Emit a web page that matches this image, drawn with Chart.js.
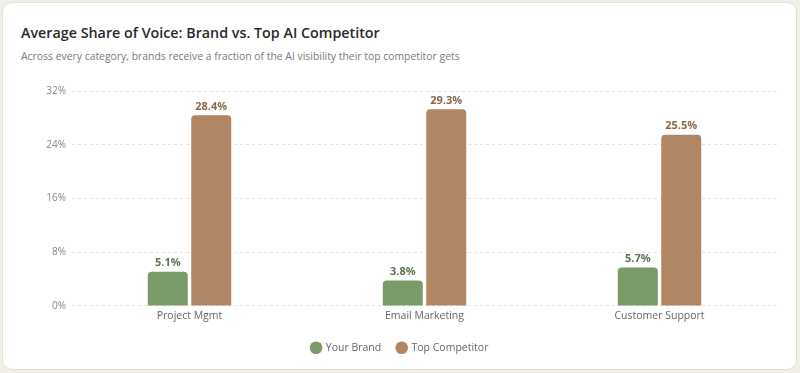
<!DOCTYPE html>
<html>
<head>
<meta charset="utf-8">
<script src="https://cdn.jsdelivr.net/npm/chart.js@4/dist/chart.umd.min.js"></script>
<style>
  html, body { margin: 0; padding: 0; background: #f1efe8; }
  body { width: 800px; height: 373px; overflow: hidden; font-family: "Open Sans", "Noto Sans", sans-serif; }
  .card {
    position: absolute; left: 2px; top: 2px; width: 793px; height: 366px;
    background: #fff; border: 1px solid #e3dfd3; border-radius: 10px;
  }
  h1 { position: absolute; left: 18px; top: 20px; margin: 0; font-size: 14.3px; font-weight: 600; color: #2a2a2a; }
  p { position: absolute; left: 18px; top: 46px; margin: 0; font-size: 10.4px; color: #7a7a7a; }
  .wrap { position: absolute; left: 20px; top: 76px; width: 754px; height: 284px; }
</style>
</head>
<body>
<div class="card">
  <h1>Average Share of Voice: Brand vs. Top AI Competitor</h1>
  <p>Across every category, brands receive a fraction of the AI visibility their top competitor gets</p>
  <div class="wrap"><canvas id="chart"></canvas></div>
</div>
<script>
const categories = ["Project Mgmt", "Email Marketing", "Customer Support"];
const brandShare = [5.1, 3.8, 5.7];
const competitorShare = [28.4, 29.3, 25.5];
const seriesNames = ["Your Brand", "Top Competitor"];
const seriesColors = ["#7b9a69", "#b08664"];
const labelColors = ["#5e7550", "#8a6749"];
const yTicks = [0, 8, 16, 24, 32];

// draws the value above each bar
const barValues = {
  id: "barValues",
  afterDatasetsDraw(chart) {
    const ctx = chart.ctx;
    ctx.save();
    ctx.font = "bold 11px 'Open Sans', sans-serif";
    ctx.textAlign = "center";
    ctx.textBaseline = "bottom";
    chart.data.datasets.forEach((ds, i) => {
      ctx.fillStyle = labelColors[i];
      chart.getDatasetMeta(i).data.forEach((bar, j) => {
        ctx.fillText(ds.data[j].toFixed(1) + "%", bar.x, bar.y - 3);
      });
    });
    ctx.restore();
  }
};

new Chart(document.getElementById("chart"), {
  type: "bar",
  data: {
    labels: categories,
    datasets: [
      { label: seriesNames[0], data: brandShare, backgroundColor: seriesColors[0] },
      { label: seriesNames[1], data: competitorShare, backgroundColor: seriesColors[1] }
    ]
  },
  options: {
    responsive: true,
    maintainAspectRatio: false,
    animation: false,
    categoryPercentage: 0.37,
    barPercentage: 0.92,
    datasets: { bar: { borderRadius: { topLeft: 4, topRight: 4 }, borderSkipped: "bottom" } },
    layout: { padding: { top: 4 } },
    scales: {
      x: {
        grid: { display: false, drawTicks: false },
        border: { display: false },
        ticks: { color: "#666", font: { size: 10.5, family: "'Open Sans', sans-serif" }, padding: 4 }
      },
      y: {
        min: 0, max: 32,
        afterBuildTicks: axis => { axis.ticks = yTicks.map(v => ({ value: v })); },
        afterFit: axis => { axis.width = 49; },
        grid: { color: "#e3e3e3", drawTicks: false },
        border: { display: false, dash: [3, 3] },
        ticks: {
          color: "#888", padding: 6,
          font: { size: 10, family: "'Open Sans', sans-serif" },
          callback: v => v + "%"
        }
      }
    },
    plugins: {
      legend: {
        position: "bottom",
        labels: {
          usePointStyle: true, pointStyle: "circle", boxWidth: 9, boxHeight: 9,
          padding: 16, color: "#666",
          font: { size: 10.5, family: "'Open Sans', sans-serif" }
        }
      },
      tooltip: { enabled: false }
    }
  },
  plugins: [barValues]
});
</script>
</body>
</html>
